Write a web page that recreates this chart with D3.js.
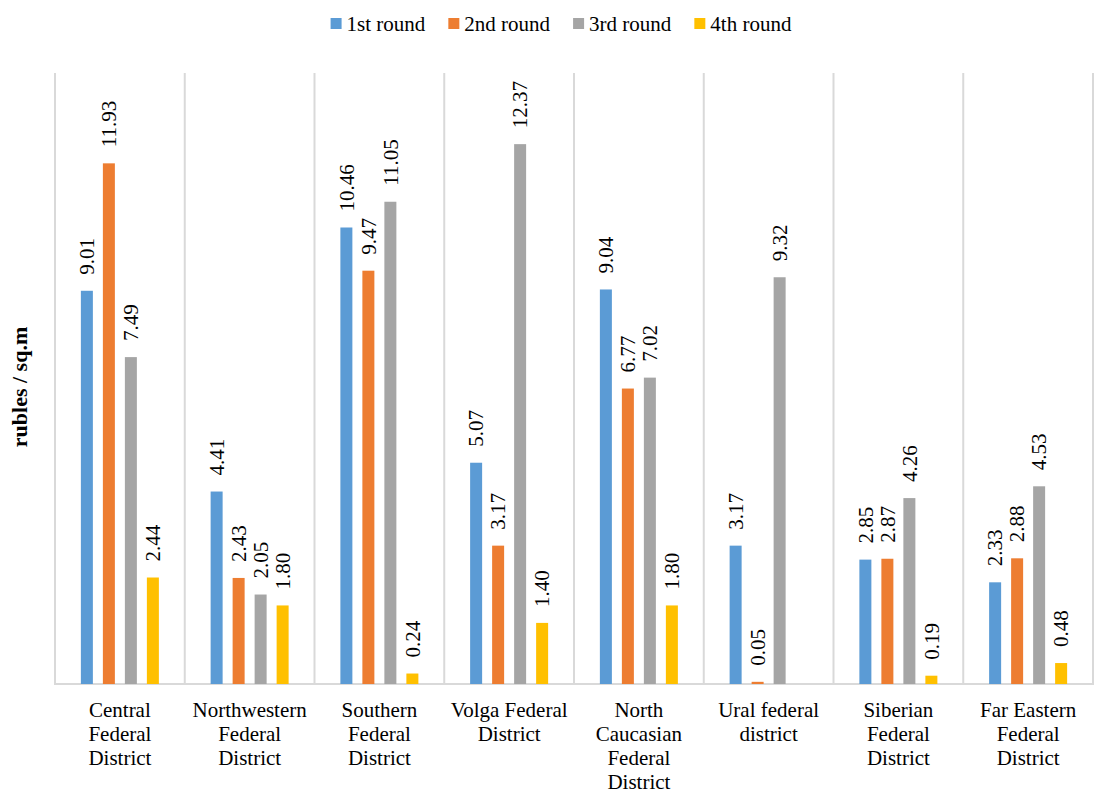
<!DOCTYPE html>
<html>
<head>
<meta charset="utf-8">
<script src="https://cdn.jsdelivr.net/npm/d3@7"></script>
</head>
<body style="margin:0;background:#fff">
<svg id="chart" width="1094" height="792"></svg>
<script>
const categories = [
  "Central\nFederal\nDistrict",
  "Northwestern\nFederal\nDistrict",
  "Southern\nFederal\nDistrict",
  "Volga Federal\nDistrict",
  "North\nCaucasian\nFederal\nDistrict",
  "Ural federal\ndistrict",
  "Siberian\nFederal\nDistrict",
  "Far Eastern\nFederal\nDistrict"
];
const seriesNames = ["1st round", "2nd round", "3rd round", "4th round"];
const round1 = [9.01, 4.41, 10.46, 5.07, 9.04, 3.17, 2.85, 2.33];
const round2 = [11.93, 2.43, 9.47, 3.17, 6.77, 0.05, 2.87, 2.88];
const round3 = [7.49, 2.05, 11.05, 12.37, 7.02, 9.32, 4.26, 4.53];
const round4 = [2.44, 1.80, 0.24, 1.40, 1.80, null, 0.19, 0.48];
const colors = ["#5B9BD5", "#ED7D31", "#A5A5A5", "#FFC000"];
const yTitle = "rubles / sq.m";

const seriesValues = [round1, round2, round3, round4];
const FONT = '"Liberation Serif", "Times New Roman", Tinos, serif';

const svg = d3.select("#chart");
const plotLeft = 55, plotRight = 1093, plotTop = 73, plotBottom = 684;

const x0 = d3.scaleBand().domain(d3.range(categories.length)).range([plotLeft, plotRight]).paddingInner(0).paddingOuter(0);
const x1 = d3.scaleBand().domain(d3.range(seriesNames.length)).range([0, x0.bandwidth()])
  .paddingInner(10 / 22).paddingOuter(1.176);
const y = d3.scaleLinear().domain([0, 14]).range([plotBottom, plotTop]);

// vertical grid lines (category separators)
const gridX = d3.range(categories.length + 1).map(i => i < categories.length ? x0(i) : plotRight);
svg.append("g").selectAll("line").data(gridX).join("line")
  .attr("x1", d => d).attr("x2", d => d)
  .attr("y1", plotTop).attr("y2", plotBottom)
  .attr("stroke", "#d9d9d9").attr("stroke-width", 2);

// baseline axis
svg.append("line")
  .attr("x1", plotLeft - 1).attr("x2", plotRight + 1)
  .attr("y1", plotBottom).attr("y2", plotBottom)
  .attr("stroke", "#d9d9d9").attr("stroke-width", 2);

// bars
const flat = [];
seriesValues.forEach((vals, s) => vals.forEach((v, c) => { if (v != null) flat.push({ s, c, v }); }));

svg.append("g").selectAll("rect").data(flat).join("rect")
  .attr("x", d => x0(d.c) + x1(d.s))
  .attr("width", x1.bandwidth())
  .attr("y", d => y(d.v))
  .attr("height", d => y(0) - y(d.v))
  .attr("fill", d => colors[d.s]);

// value labels
svg.append("g").selectAll("text").data(flat).join("text")
  .attr("transform", d => `translate(${x0(d.c) + x1(d.s) + x1.bandwidth() / 2},${y(d.v) - 16}) rotate(-90)`)
  .attr("dy", "0.35em")
  .attr("text-anchor", "start")
  .style("font-family", FONT)
  .style("font-size", "21px")
  .attr("fill", "#000")
  .text(d => d.v.toFixed(2));

// category labels
const catG = svg.append("g");
categories.forEach((c, i) => {
  const cx = x0(i) + x0.bandwidth() / 2;
  const t = catG.append("text")
    .attr("x", cx)
    .attr("y", 717)
    .attr("text-anchor", "middle")
    .style("font-family", FONT)
    .style("font-size", "21px")
    .attr("fill", "#000");
  c.split("\n").forEach((line, j) => {
    t.append("tspan").attr("x", cx).attr("dy", j === 0 ? 0 : 24).text(line);
  });
});

// y axis title
svg.append("text")
  .attr("transform", "translate(27,387) rotate(-90)")
  .attr("text-anchor", "middle")
  .style("font-family", FONT)
  .style("font-size", "22px")
  .style("font-weight", "bold")
  .attr("fill", "#000")
  .text(yTitle);

// legend
const legend = svg.append("g");
const items = [];
seriesNames.forEach((name, i) => {
  const g = legend.append("g");
  g.append("rect").attr("x", 0).attr("y", 18).attr("width", 11).attr("height", 11).attr("fill", colors[i]);
  const t = g.append("text").attr("x", 16).attr("y", 31)
    .style("font-family", FONT).style("font-size", "21px").attr("fill", "#000").text(name);
  const w = 16 + t.node().getComputedTextLength();
  items.push({ g, w });
});
const gap = 23;
const total = d3.sum(items, d => d.w) + gap * (items.length - 1);
let lx = 561 - total / 2;
items.forEach(it => { it.g.attr("transform", `translate(${lx},0)`); lx += it.w + gap; });
</script>
</body>
</html>
